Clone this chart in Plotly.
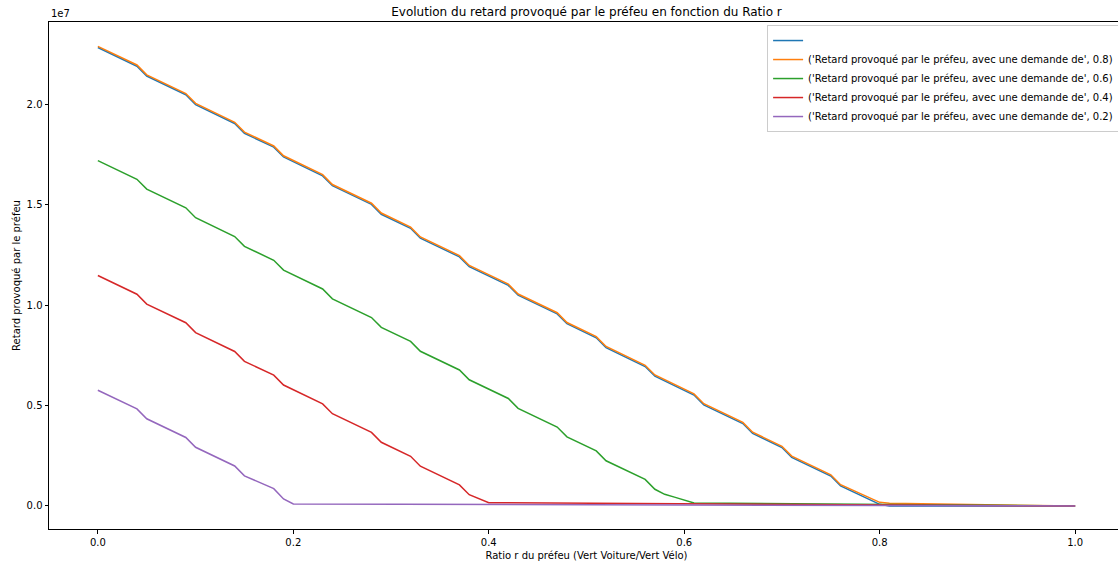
import plotly.graph_objects as go

UNIT = 1e7  # values below are in units of 1e7

ratio_08 = [0, .04, .05, .09, .10, .14, .15, .18, .19, .23, .24, .28, .29, .32, .33, .37, .38,
            .42, .43, .47, .48, .51, .52, .56, .57, .61, .62, .66, .67, .70, .71, .75, .76, .80, .81, 1.0]
retard_blue = [2.282, 2.189, 2.140, 2.047, 1.998, 1.904, 1.855, 1.786, 1.737, 1.643, 1.594, 1.501,
               1.452, 1.382, 1.333, 1.240, 1.191, 1.098, 1.049, 0.956, 0.907, 0.837, 0.788, 0.694,
               0.646, 0.552, 0.503, 0.410, 0.361, 0.291, 0.242, 0.149, 0.100, 0.008, 0.0, 0.0]
retard_08 = [2.288, 2.195, 2.146, 2.053, 2.004, 1.910, 1.861, 1.792, 1.743, 1.649, 1.600, 1.507,
             1.458, 1.388, 1.339, 1.246, 1.197, 1.104, 1.055, 0.962, 0.913, 0.843, 0.794, 0.700,
             0.652, 0.558, 0.509, 0.416, 0.367, 0.297, 0.248, 0.155, 0.106, 0.018, 0.013, 0.0]

ratio_06 = [0, .04, .05, .09, .10, .14, .15, .18, .19, .23, .24, .28, .29, .32, .33, .37, .38,
            .42, .43, .47, .48, .51, .52, .56, .57, .58, .59, .60, .61, 1.0]
retard_06 = [1.719, 1.626, 1.577, 1.484, 1.435, 1.341, 1.292, 1.223, 1.174, 1.080, 1.031, 0.938,
             0.889, 0.819, 0.770, 0.677, 0.628, 0.535, 0.486, 0.393, 0.344, 0.274, 0.225, 0.132,
             0.083, 0.058, 0.044, 0.030, 0.015, 0.0]

ratio_04 = [0, .04, .05, .09, .10, .14, .15, .18, .19, .23, .24, .28, .29, .32, .33, .37, .38,
            .39, .40, 1.0]
retard_04 = [1.147, 1.054, 1.005, 0.912, 0.863, 0.769, 0.720, 0.651, 0.602, 0.508, 0.459, 0.366,
             0.317, 0.247, 0.198, 0.105, 0.056, 0.036, 0.016, 0.0]

ratio_02 = [0, .04, .05, .09, .10, .14, .15, .18, .19, .20, 1.0]
retard_02 = [0.576, 0.483, 0.434, 0.341, 0.292, 0.199, 0.150, 0.086, 0.035, 0.010, 0.0]

label_prefix = "('Retard provoqué par le préfeu, avec une demande de', "
series = [
    (" ", ratio_08, retard_blue, "#1f77b4"),
    (label_prefix + "0.8)", ratio_08, retard_08, "#ff7f0e"),
    (label_prefix + "0.6)", ratio_06, retard_06, "#2ca02c"),
    (label_prefix + "0.4)", ratio_04, retard_04, "#d62728"),
    (label_prefix + "0.2)", ratio_02, retard_02, "#9467bd"),
]

x_ticks = [0.0, 0.2, 0.4, 0.6, 0.8, 1.0]
x_ticktext = ["0.0", "0.2", "0.4", "0.6", "0.8", "1.0"]
y_ticks = [0.0, 0.5, 1.0, 1.5, 2.0]
y_ticktext = ["0.0", "0.5", "1.0", "1.5", "2.0"]

FONT = "DejaVu Sans"
fig = go.Figure()
for name, xs, ys, color in series:
    fig.add_trace(go.Scatter(x=xs, y=[v * UNIT for v in ys], mode="lines", name=name,
                             line=dict(color=color, width=1.5)))

# The figure is slightly wider than the 1118px window, like the reference whose
# right edge is cut off by the frame.
fig.update_layout(
    width=1124, height=563,
    margin=dict(l=49, r=0, t=22, b=34, autoexpand=False),
    paper_bgcolor="white", plot_bgcolor="white",
    font=dict(family=FONT, size=10, color="black"),
    title=dict(text="Evolution du retard provoqué par le préfeu en fonction du Ratio r",
               x=0.5, xanchor="center", xref="paper",
               y=1 - 12 / 563, yanchor="middle", yref="container",
               font=dict(size=12, family=FONT, color="black")),
    legend=dict(x=0.668, y=0.994, xanchor="left", yanchor="top",
                bgcolor="rgba(255,255,255,0.8)", bordercolor="#cccccc", borderwidth=1,
                font=dict(size=10, family=FONT)),
    showlegend=True,
)
fig.update_xaxes(range=[-0.05, 1.05], tickvals=x_ticks, ticktext=x_ticktext,
                 showgrid=False, zeroline=False, showline=True, linecolor="black", linewidth=1,
                 mirror=True, ticks="outside", ticklen=3.5, tickwidth=0.8, tickcolor="black",
                 title=dict(text="Ratio r du préfeu (Vert Voiture/Vert Vélo)", standoff=5,
                            font=dict(size=10)))
fig.update_yaxes(range=[-0.1147 * UNIT, 2.409 * UNIT], tickvals=[v * UNIT for v in y_ticks],
                 ticktext=y_ticktext,
                 showgrid=False, zeroline=False, showline=True, linecolor="black", linewidth=1,
                 mirror=True, ticks="outside", ticklen=3.5, tickwidth=0.8, tickcolor="black",
                 title=dict(text="Retard provoqué par le préfeu", standoff=4, font=dict(size=10)))
fig.add_annotation(text="1e7", xref="paper", yref="paper", x=0, y=1, xanchor="left",
                   yanchor="bottom", showarrow=False, font=dict(size=10, family=FONT), yshift=1)

fig.write_html("out.html", config={"displayModeBar": False},
               post_script="document.body.style.margin='0px';document.body.style.overflow='hidden';")
